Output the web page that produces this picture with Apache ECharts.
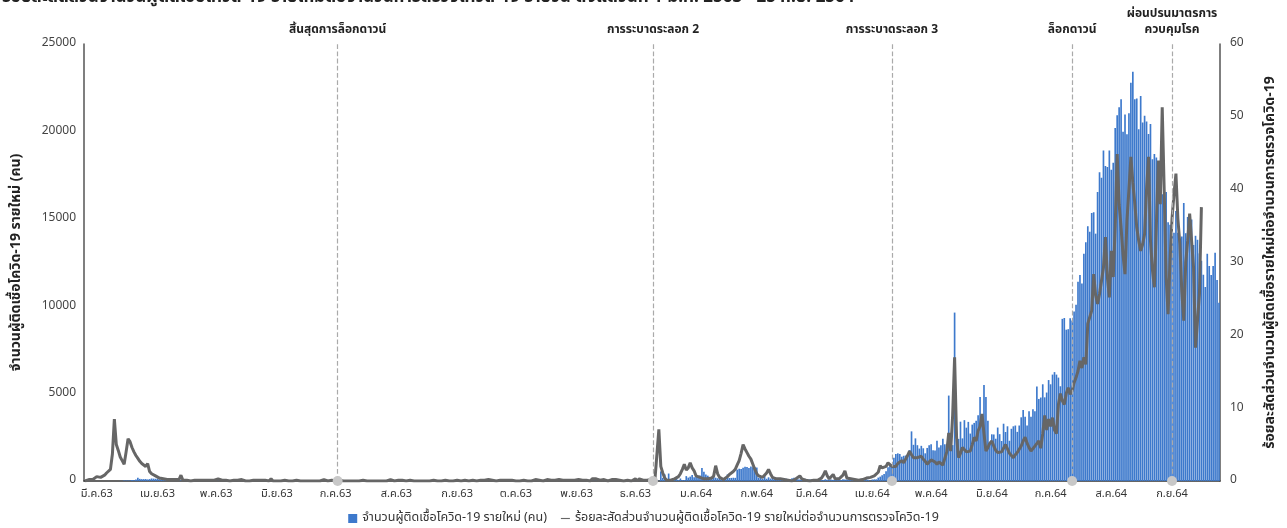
<!DOCTYPE html>
<html><head><meta charset="utf-8">
<script src="https://cdn.jsdelivr.net/npm/echarts@6/dist/echarts.min.js"></script>
<style>html,body{margin:0;padding:0;background:#fff}#c{width:1287px;height:528px}</style>
</head><body><div id="c"></div>
<script>
// ---- categories: one per day ----
const startDate = '2020-02-24';
const endDate = '2021-09-25';
const thaiMonths = ['ม.ค.','ก.พ.','มี.ค.','เม.ย.','พ.ค.','มิ.ย.','ก.ค.','ส.ค.','ก.ย.','ต.ค.','พ.ย.','ธ.ค.'];

// ---- daily new cases (left axis) ----
const casesWave1 = [0,1,0,0,2,0,
1,0,1,0,0,0,3,0,0,1,0,0,5,7,
32,33,30,35,60,50,89,188,122,106,107,111,91,109,143,136,127,
120,104,103,89,102,51,38,111,54,50,45,33,28,34,30,29,28,33,32,27,19,15,13,15,53,15,9,7,9,7];
const casesCalm = [
6,18,3,1,1,3,1,0,3,4,0,5,2,7,3,0,3,0,0,1,0,3,1,2,0,5,3,0,11,0,1,
1,8,1,0,2,0,0,2,0,0,4,0,0,1,0,0,1,0,0,0,0,0,0,0,9,0,0,2,2,7,
0,0,1,3,0,3,0,3,1,0,0,2,1,0,4,0,0,2,0,3,1,0,0,0,0,3,1,3,7,1,0,
0,4,0,4,2,0,0,4,0,1,0,1,1,0,4,0,1,0,2,2,3,1,2,0,7,2,0,0,2,0,2,
2,4,1,5,5,1,1,3,4,1,0,3,4,1,2,1,8,1,5,3,1,0,3,5,3,4,5,4,2,8,
1,9,1,5,2,4,1,1,0,8,7,2,2,6,1,3,10,7,3,3,4,1,8,5,2,6,4,4,5,3,3,
3,8,4,2,3,4,6,1,11,5,10,3,4,6,9,4,0,8,8,9,7,4,2,7,1,8,5,12,1,9,
11,1,10,8,4,9,4,3,6];
const casesWave2 = [
4,5,7,15,548,180,380,46,427,72,64,110,121,60,144,52,56,279,194,250,339,216,
279,212,315,745,527,365,305,228,121,249,188,157,184,128,173,199,374,171,176,187,180,650,700,690,760,820,800,750,830,790,800,
770,186,240,126,281,130,210,142,199,183,74,166,140,112,165,135,83,106,155,190,96,95,84,58,103,121,98,91,
90,83,93,52,36,52,55,99,70,82,83,67,84,66,62,58,96,89,82,107,98,103,96,73,94,121,93,79,99,67,26,
84,94,96,194,250,334,405,559,789];
const casesWave3 = [
985,965,1335,1543,1582,1547,1390,1443,1458,1470,1767,2839,2070,2438,2048,1855,2012,1871,1583,1891,2041,
2101,1763,1744,2300,1911,2044,2419,2101,1630,4887,2256,2052,9635,2320,2406,3394,2438,3481,3052,3382,2713,3226,3323,3440,3759,4801,3795,5485,4803,3440,2230,
2671,2662,2419,3058,2680,2290,3277,2804,3129,2302,2988,3129,3174,2811,3174,3644,4059,3682,3175,3995,3682,4108,3995,5406,4694,4776,5533,4786,5061,5775,
5533,6087,6230,6087,5916,5420,9276,9326,8656,8685,9317,9186,9692,10082,11397,11784,11305,13002,13655,14575,14260,15335,15376,14150,16533,17669,17345,18912,18027,17970,18901,
17800,18200,20200,20920,21379,21838,19983,20961,19843,21038,22782,23418,21837,21883,20128,22022,20515,20902,20571,19851,20420,18400,18702,18501,17984,17153,16400,16100,16536,14802,14666,
14500,14200,15452,14200,13800,13988,15900,14176,15100,15277,14963,13500,14029,13800,13022,12600,11800,11100,13000,12300,11786,12300,13053,11500,10200];

// ---- positivity rate % (right axis) ----
const pctWave1 = [0.0,0.1,0.2,0.4,0.2,0.1,0.6,0.7,0.5,0.4,
0.8,1.1,1.3,1.6,3.7,8.5,5.0,4.2,3.3,2.8,
2.3,4.0,5.8,5.4,4.6,4.0,3.5,3.1,2.7,2.4,
2.2,2.0,2.4,1.3,1.0,0.8,0.7,0.6,0.4,0.5,
0.3,0.3,0.2,0.3,0.2,0.1,0.2,0.1,0.2,0.8,
0.1,0.1,0.1,0.1,0.0,0.1,0.1,0.1,0.1,0.3,
0.1,0.1,0.1,0.0,0.1,0.1,0.1];
const pctCalm = [
0.2,0.3,0.1,0.1,0.1,0.1,0.1,0.0,0.1,0.1,0.0,0.1,0.1,0.2,0.1,0.0,0.1,0.0,0.0,0.1,0.0,0.1,0.1,0.1,0.0,0.1,0.1,0.0,0.3,0.0,0.0,
0.0,0.1,0.0,0.0,0.1,0.0,0.0,0.1,0.0,0.0,0.1,0.0,0.0,0.0,0.0,0.0,0.0,0.0,0.0,0.0,0.0,0.0,0.0,0.0,0.2,0.0,0.0,0.1,0.1,0.2,
0.0,0.0,0.1,0.1,0.0,0.1,0.0,0.1,0.0,0.0,0.0,0.1,0.0,0.0,0.1,0.0,0.0,0.1,0.0,0.1,0.0,0.0,0.0,0.0,0.0,0.1,0.0,0.1,0.2,0.0,0.0,
0.0,0.1,0.0,0.1,0.1,0.0,0.0,0.1,0.0,0.0,0.0,0.0,0.0,0.0,0.1,0.0,0.0,0.0,0.1,0.1,0.1,0.0,0.1,0.0,0.2,0.1,0.0,0.0,0.1,0.0,0.1,
0.1,0.1,0.0,0.1,0.1,0.0,0.0,0.1,0.1,0.0,0.0,0.1,0.1,0.0,0.1,0.0,0.2,0.0,0.1,0.1,0.0,0.0,0.1,0.1,0.1,0.1,0.1,0.1,0.1,0.2,
0.0,0.2,0.0,0.1,0.1,0.1,0.0,0.0,0.0,0.2,0.2,0.1,0.1,0.1,0.0,0.1,0.2,0.2,0.1,0.1,0.1,0.0,0.2,0.1,0.1,0.1,0.1,0.1,0.1,0.1,0.1,
0.1,0.2,0.1,0.1,0.1,0.1,0.2,0.0,0.3,0.1,0.3,0.1,0.1,0.2,0.2,0.1,0.0,0.2,0.2,0.2,0.2,0.1,0.1,0.2,0.0,0.2,0.1,0.3,0.0,0.2,
0.3,0.0,0.3,0.2,0.1,0.2,0.1,0.1,0.2];
const pctWave2 = [
0.1,0.2,0.4,7.1,2.0,1.1,0.4,0.1,0.1,0.1,
0.2,0.3,0.4,0.6,1.0,1.6,2.3,1.5,1.8,2.5,
1.8,1.4,0.7,0.6,0.5,0.5,0.3,0.2,0.3,0.3,
0.4,0.7,2.1,1.0,0.5,0.3,0.2,0.4,0.6,0.9,
1.1,1.3,1.6,2.2,2.8,3.8,5.0,4.4,3.9,3.4,
3.0,2.3,1.6,1.0,0.7,0.6,0.5,0.7,1.1,1.6,
1.0,0.5,0.4,0.3,0.3,0.3,0.2,0.2,0.2,0.1,
0.1,0.0,0.1,0.3,0.5,0.7,0.3,0.2,0.1,0.1,
0.0,0.0,0.1,0.2,0.1,0.2,0.4,0.8,1.4,0.7,
0.3,0.5,0.9,0.3,0.2,0.3,0.4,0.8,1.4,0.4,
0.2,0.3,0.3,0.2,0.2,0.1,0.2,0.2,0.3,0.4,
0.5,0.5,0.6,0.7,0.7,1.2,2.1,1.8,1.6,2.0,
2.5];
const pctWave3 = [
2.3,2.0,2.2,2.0,2.4,2.6,2.8,2.5,3.0,3.5,
4.1,3.6,3.2,3.0,3.2,3.4,3.4,3.0,2.7,2.3,
2.6,2.9,3.1,2.6,2.3,2.6,2.4,2.2,2.1,4.0,
6.6,4.1,9.0,17.0,6.0,3.2,3.8,4.6,4.4,4.0,
4.2,4.1,5.0,6.0,5.5,6.9,7.5,9.2,6.5,4.1,
4.6,5.2,5.5,4.8,4.2,3.9,3.7,4.0,4.5,5.0,
4.4,3.8,3.5,3.2,3.6,3.9,4.1,4.8,5.5,6.0,
5.2,4.6,4.1,4.3,4.8,5.0,
5.5,4.5,6.5,9.0,7.0,8.5,7.5,8.7,7.0,6.5,
10.5,12.0,11.0,10.5,12.0,12.8,11.9,12.4,13.5,14.2,
15.1,16.5,15.5,17.0,16.0,21.6,22.5,23.4,28.4,25.5,
24.3,25.7,27.5,29.3,33.5,28.0,25.2,31.6,28.0,35.0,
44.9,38.0,34.8,31.0,28.4,35.8,40.0,44.5,41.0,38.1,
34.8,33.0,31.6,32.5,33.9,40.0,44.5,33.0,29.0,26.6,
35.0,44.0,38.0,51.3,40.0,28.0,22.9,30.3,36.0,39.4,
42.2,36.0,32.6,26.0,22.0,30.0,33.0,36.7,33.0,29.3,
18.3,22.0,25.7,37.6,
null,null,null,null,null,null,null,null,null];

// ---- events ----
const eventDates = ['2020-07-02','2020-12-10','2021-04-11','2021-07-12','2021-09-01'];
const eventLabels = ['สิ้นสุดการล็อกดาวน์','การระบาดระลอก 2','การระบาดระลอก 3','ล็อกดาวน์','ผ่อนปรนมาตรการ\nควบคุมโรค'];

const titleText = 'ร้อยละสัดส่วนจำนวนผู้ติดเชื้อโควิด-19 รายใหม่ต่อจำนวนการตรวจโควิด-19 รายวัน ตั้งแต่วันที่ 1 มี.ค. 2563 - 25 ก.ย. 2564';
const barName = 'จำนวนผู้ติดเชื้อโควิด-19 รายใหม่ (คน)';
const lineName = 'ร้อยละสัดส่วนจำนวนผู้ติดเชื้อโควิด-19 รายใหม่ต่อจำนวนการตรวจโควิด-19';
const leftAxisName = 'จำนวนผู้ติดเชื้อโควิด-19 รายใหม่ (คน)';
const rightAxisName = 'ร้อยละสัดส่วนจำนวนผู้ติดเชื้อรายใหม่ต่อจำนวนการตรวจโควิด-19';

// build date list
const dates = [];
(function(){
  const s = new Date(startDate + 'T00:00:00Z'), e = new Date(endDate + 'T00:00:00Z');
  for (let t = s.getTime(); t <= e.getTime(); t += 86400000) {
    dates.push(new Date(t).toISOString().slice(0,10));
  }
})();
const cases = casesWave1.concat(casesCalm, casesWave2, casesWave3);
const pct = pctWave1.concat(pctCalm, pctWave2, pctWave3);

const FONT = "'Noto Sans Thai','Noto Sans','DejaVu Sans',sans-serif";
const chart = echarts.init(document.getElementById('c'));
chart.setOption({
  animation: false,
  textStyle: { fontFamily: FONT },
  graphic: [{
    type: 'text', left: 2, top: -10,
    style: { text: titleText, fontSize: 17, fontWeight: 'bold', fill: '#222', fontFamily: FONT }
  }],
  legend: {
    bottom: -2, left: 'center', itemGap: 14,
    textStyle: { fontSize: 12.5, color: '#333', fontFamily: FONT },
    data: [
      { name: barName, icon: 'rect', itemStyle: { color: '#3d79cc' } },
      { name: lineName, icon: 'path://M0,0 L16,0 L16,2 L0,2 Z' }
    ],
    itemWidth: 9, itemHeight: 9
  },
  grid: { left: 84, right: 67, top: 44, bottom: 47 },
  xAxis: {
    type: 'category', data: dates, boundaryGap: true,
    axisLine: { lineStyle: { color: '#333', width: 1.5 } },
    axisTick: { show: false },
    axisLabel: {
      interval: (i, v) => v.slice(8) === '01',
      formatter: v => thaiMonths[+v.slice(5,7) - 1] + String((+v.slice(0,4) + 543) % 100),
      color: '#333', fontSize: 11, margin: 8
    }
  },
  yAxis: [{
    type: 'value', min: 0, max: 25000, interval: 5000,
    name: leftAxisName, nameLocation: 'middle', nameGap: 60, nameRotate: 90,
    nameTextStyle: { fontSize: 14, color: '#222', fontWeight: 'bold' },
    axisLine: { show: true, lineStyle: { color: '#555', width: 1.5 } },
    axisTick: { show: false }, splitLine: { show: false },
    axisLabel: { color: '#444', fontSize: 12, margin: 8, formatter: v => String(v) }
  }, {
    type: 'value', min: 0, max: 60, interval: 10, position: 'right',
    name: rightAxisName, nameLocation: 'middle', nameGap: 44, nameRotate: 90,
    nameTextStyle: { fontSize: 14, color: '#222', fontWeight: 'bold' },
    axisLine: { show: true, lineStyle: { color: '#555', width: 1.5 } },
    axisTick: { show: false }, splitLine: { show: false },
    axisLabel: { color: '#444', fontSize: 12, margin: 10, formatter: v => String(v) }
  }],
  series: [{
    name: barName, type: 'bar', data: cases, barCategoryGap: '15%',
    itemStyle: { color: '#3d79cc' },
    markLine: {
      silent: true, symbol: 'none',
      lineStyle: { type: 'dashed', color: '#aaaaaa', width: 1.2 },
      label: { show: true, position: 'end', distance: 5, color: '#222', fontSize: 12, fontWeight: 'bold', lineHeight: 16, fontFamily: FONT,
               formatter: p => eventLabels[eventDates.indexOf(p.value)] },
      data: eventDates.map(d => ({ xAxis: d }))
    },
    markPoint: {
      silent: true, symbol: 'circle', symbolSize: 10,
      itemStyle: { color: '#c8c8c8' }, label: { show: false },
      data: eventDates.map(d => ({ coord: [d, 0] }))
    }
  }, {
    name: lineName, type: 'line', yAxisIndex: 1, data: pct,
    symbol: 'none', connectNulls: false,
    lineStyle: { color: '#666666', width: 3 }, itemStyle: { color: '#666666' },
    z: 3
  }]
});
</script></body></html>
